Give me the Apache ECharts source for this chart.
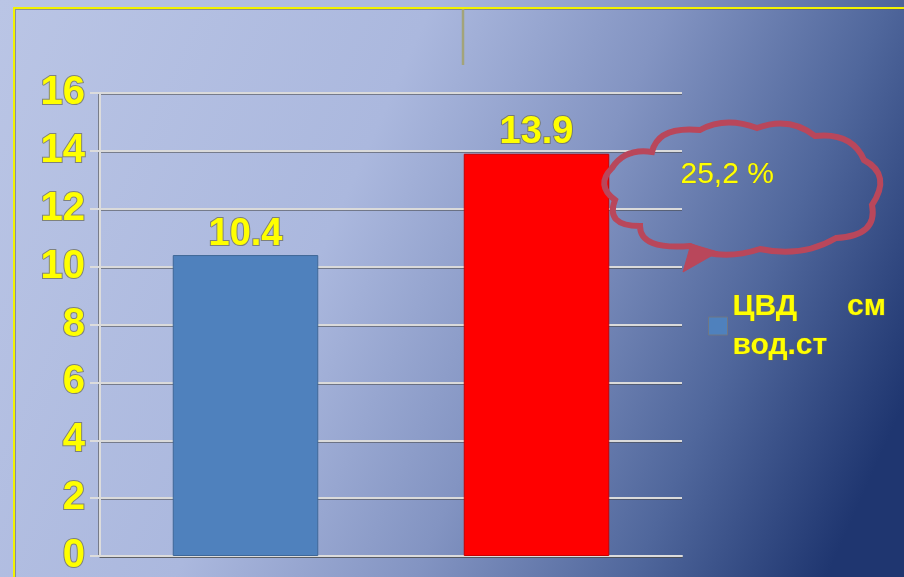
<!DOCTYPE html>
<html>
<head>
<meta charset="utf-8">
<script src="https://cdn.jsdelivr.net/npm/echarts@6/dist/echarts.min.js"></script>
<style>
  html, body { margin: 0; padding: 0; }
  #chart { width: 904px; height: 577px; }
</style>
</head>
<body>
<div id="chart"></div>
<script>
const categories = ['до', 'после'];
const values = [10.4, 13.9];
const barColors = ['#4f81bd', '#ff0000'];
const seriesName = 'ЦВД см вод.ст';
const cloudText = '25,2 %';

const chart = echarts.init(document.getElementById('chart'));

const yellowText = {
  color: '#ffff00',
  fontFamily: 'Liberation Sans, Arial, sans-serif',
  fontWeight: 'bold',
  textBorderColor: 'rgba(110,110,90,0.75)',
  textBorderWidth: 2
};

// callout cloud outline (decoration, not data)
const cloudPath =
  'M 615 200 Q 595 185 612 168 Q 625 148 652 152 Q 658 126 700 130 ' +
  'Q 725 116 757 128 Q 790 116 815 136 Q 852 132 864 160 Q 892 175 872 205 ' +
  'Q 878 236 836 238 Q 802 258 760 249 Q 720 262 690 246 Q 640 250 640 226 ' +
  'Q 605 226 615 200 Z';
const tailPath = 'M 691 244 L 683 272 L 718 252 Z';

const option = {
  backgroundColor: {
    type: 'linear', x: 0, y: 0, x2: 1, y2: 0.7,
    colorStops: [
      { offset: 0, color: '#bac5e5' },
      { offset: 0.4, color: '#abb8de' },
      { offset: 0.62, color: '#8394c2' },
      { offset: 0.82, color: '#50679c' },
      { offset: 1, color: '#1f3670' }
    ]
  },
  animation: false,
  grid: { left: 100, right: 222, top: 93, bottom: 21 },
  legend: {
    data: [seriesName],
    left: 703, top: 282,
    orient: 'vertical',
    icon: 'rect',
    itemWidth: 19, itemHeight: 18,
    itemStyle: { borderColor: '#6f7684', borderWidth: 1 },
    formatter: () => 'ЦВД      см\nвод.ст',
    textStyle: Object.assign({}, yellowText, {
      fontSize: 30, lineHeight: 39, textBorderWidth: 1.2
    })
  },
  xAxis: {
    type: 'category',
    data: categories,
    axisLine: { show: true, lineStyle: { color: '#dcdcdc', width: 2, shadowColor: 'rgba(80,80,80,0.6)', shadowOffsetY: 1 } },
    axisTick: { show: false },
    axisLabel: { show: false }
  },
  yAxis: {
    type: 'value',
    min: 0, max: 16, interval: 2,
    axisLine: { show: true, lineStyle: { color: '#dcdcdc', width: 2, shadowColor: 'rgba(80,80,80,0.6)', shadowOffsetX: -1 } },
    axisTick: { show: true, length: 10, lineStyle: { color: '#dcdcdc', width: 2 } },
    axisLabel: Object.assign({}, yellowText, { fontSize: 40, margin: 15 }),
    splitLine: {
      show: true,
      lineStyle: { color: '#dadada', width: 2, shadowColor: 'rgba(70,70,70,0.55)', shadowOffsetY: 1 }
    }
  },
  series: [
    {
      name: seriesName,
      type: 'bar',
      barWidth: '50%',
      itemStyle: { color: barColors[0] },
      data: values.map((v, i) => ({
        value: v,
        itemStyle: {
          color: barColors[i],
          borderColor: i === 0 ? '#3f6797' : '#c80000',
          borderWidth: 1
        }
      })),
      label: Object.assign({ show: true, position: 'top', distance: 2, fontSize: 38 }, yellowText)
    },
    {
      name: 'cloud',
      type: 'custom',
      coordinateSystem: 'none',
      silent: true,
      z: 5,
      data: [0],
      renderItem: () => ({
        type: 'group',
        children: [
          { type: 'path', shape: { pathData: cloudPath }, style: { fill: 'none', stroke: '#b9475b', lineWidth: 6 } },
          { type: 'path', shape: { pathData: tailPath }, style: { fill: '#b9475b', stroke: '#b9475b', lineWidth: 1 } }
        ]
      })
    }
  ],
  graphic: [
    {
      type: 'rect',
      shape: { x: 14, y: 8, width: 1000, height: 700 },
      style: { fill: 'none', stroke: '#f2f200', lineWidth: 2, shadowColor: 'rgba(90,90,90,0.5)', shadowOffsetX: 1, shadowOffsetY: 1 },
      silent: true
    },
    {
      type: 'line',
      shape: { x1: 463, y1: 9, x2: 463, y2: 65 },
      style: { stroke: '#a3a47a', lineWidth: 2.5 },
      silent: true
    },
    {
      type: 'text',
      left: 680, top: 159,
      z: 10,
      style: {
        text: cloudText,
        fill: '#ffff00',
        font: '30px Liberation Sans, Arial, sans-serif',
        stroke: 'rgba(110,110,90,0.6)',
        lineWidth: 1
      },
      silent: true
    }
  ]
};

chart.setOption(option);
</script>
</body>
</html>
